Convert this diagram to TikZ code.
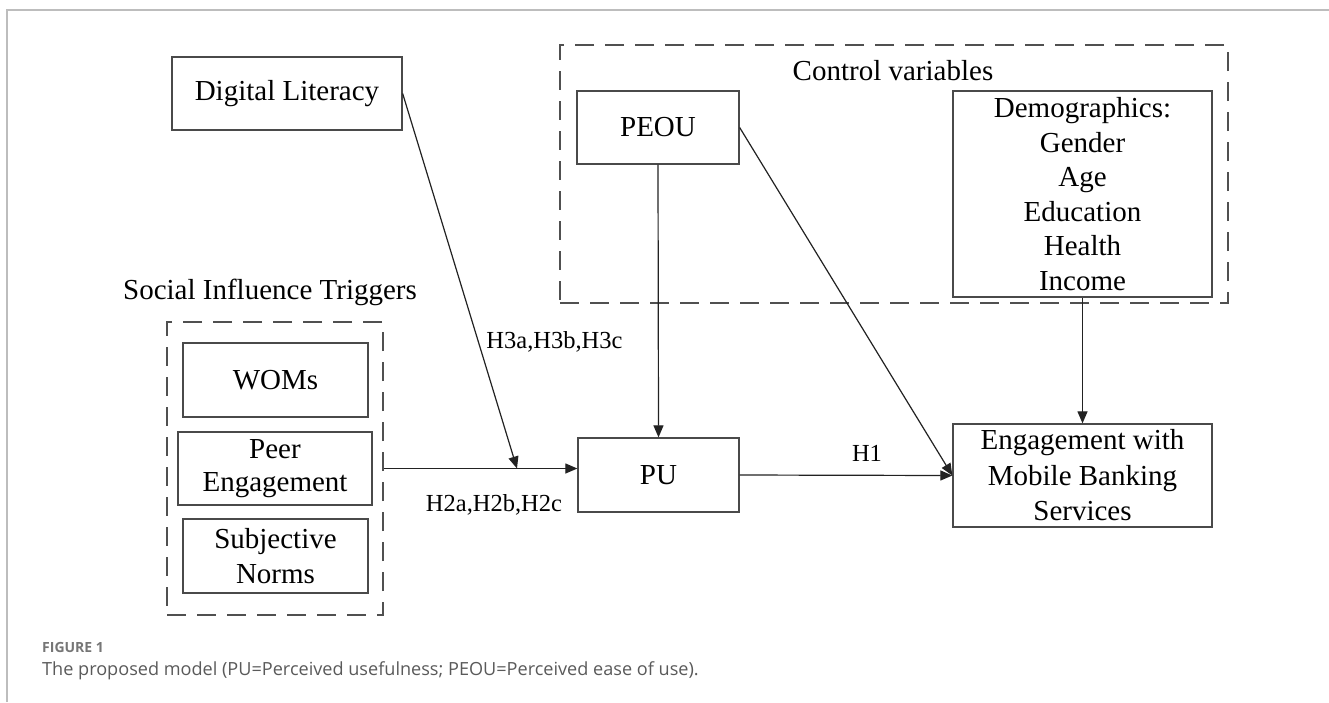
\documentclass[tikz,border=0pt]{standalone}
\usepackage{fontspec}
\setmainfont{Liberation Serif}
\newfontfamily\capfont{Open Sans}
\usetikzlibrary{arrows.meta}
\definecolor{boxline}{HTML}{4A4A4A}
\definecolor{dashline}{HTML}{505050}
\definecolor{frameline}{HTML}{BDBDBD}
\definecolor{captxt}{HTML}{5A5A5A}
\definecolor{figlbl}{HTML}{767676}
\definecolor{inkline}{HTML}{222222}
\begin{document}
\begin{tikzpicture}[x=1pt,y=-1pt,
  box/.style={draw=boxline, line width=1.3pt, inner sep=0pt, align=center,
    font=\fontsize{29}{35}\selectfont, text=black},
  grp/.style={draw=dashline, dash pattern=on 19pt off 11pt, line width=2.2pt, inner sep=0pt},
  conn/.style={draw=inkline, line width=1.2pt, -{Triangle[length=12pt,width=10pt]}},
  lbl/.style={font=\fontsize{24.5}{29}\selectfont, inner sep=0pt, text=black},
  grplbl/.style={font=\fontsize{29}{34}\selectfont, inner sep=0pt, text=black}
]
\useasboundingbox (0,0) rectangle (1329,702);
\fill[white] (0,0) rectangle (1329,702);
% outer frame
\draw[frameline, line width=1.5pt] (7,702) -- (7,10) -- (1329,10);

% group boxes
\node[grp, minimum width=668pt, minimum height=258pt] (ctrl) at (894,174) {};
\node[grp, minimum width=216pt, minimum height=293pt] (sit) at (275,468.5) {};
\node[grplbl] (ctrllbl) at (893,71) {Control variables};
\node[grplbl] (sitlbl) at (270,292) {Social Influence Triggers};

% boxes
\node[box, minimum width=230pt, minimum height=73pt] (dl) at (287,93.5) {Digital Literacy};
\node[box, minimum width=162pt, minimum height=73pt] (peou) at (658,127.5) {PEOU};
\node[box, minimum width=259pt, minimum height=206pt, font=\fontsize{29}{34.6}\selectfont] (demo) at (1082.5,194) {Demographics:\\Gender\\Age\\Education\\Health\\Income};
\node[box, minimum width=185pt, minimum height=74pt] (wom) at (275.5,380) {WOMs};
\node[box, minimum width=194pt, minimum height=73pt, font=\fontsize{29}{33.5}\selectfont] (peer) at (275,468.5) {Peer\\Engagement};
\node[box, minimum width=185pt, minimum height=74pt] (sn) at (275.5,556) {Subjective\\Norms};
\node[box, minimum width=161pt, minimum height=74pt] (pu) at (658.5,475) {PU};
\node[box, minimum width=259pt, minimum height=103pt, font=\fontsize{29}{35.5}\selectfont] (eng) at (1082.5,475.5) {Engagement with\\Mobile Banking\\Services};

% connectors
\coordinate (dltip) at (517,468.5);
\draw[conn] (dl.east) -- (dltip);
\draw[conn] (sit.east |- peer.east) -- (pu.west |- peer.east);
\draw[conn] (peou.south) -- (pu.north);
\draw[conn] (peou.east) -- (eng.west);
\draw[conn] (pu.east) -- (eng.west);
\draw[conn] (demo.south) -- (eng.north);

% labels
\node[lbl] (h3) at (554.5,342) {H3a,H3b,H3c};
\node[lbl] (h2) at (494,505) {H2a,H2b,H2c};
\node[lbl] (h1) at (867,453) {H1};

% caption
\node[anchor=base west, inner sep=0pt, font=\capfont\bfseries\fontsize{14}{16}\selectfont, text=figlbl] (fig) at (42,652) {FIGURE 1};
\node[anchor=base west, inner sep=0pt, font=\capfont\fontsize{18.1}{21}\selectfont, text=captxt] (cap) at (42,675) {The proposed model (PU=Perceived usefulness; PEOU=Perceived ease of use).};
\end{tikzpicture}
\end{document}
